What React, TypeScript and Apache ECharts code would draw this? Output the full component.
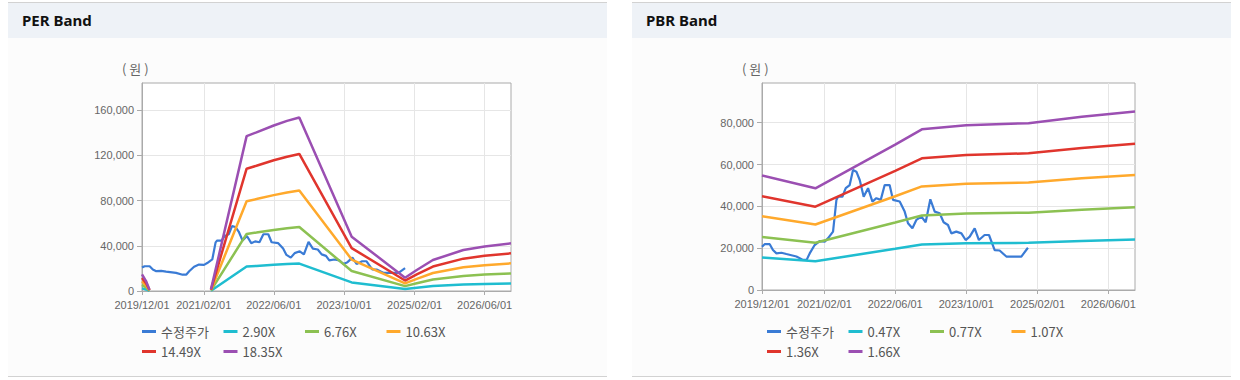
import { useEffect, useRef } from 'react';
import * as echarts from 'echarts';

// ---------- data ----------
const xMin = '2019-12-01';
const xMax = '2026-12-01';
const xTickDates = ['2019-12-01', '2021-02-01', '2022-06-01', '2023-10-01', '2025-02-01', '2026-06-01'];

const perYTicks = [0, 40000, 80000, 120000, 160000];
const perYMax = 184000;
const pbrYTicks = [0, 20000, 40000, 60000, 80000];
const pbrYMax = 99000;

// 수정주가 (adjusted price) – shared by both charts
const priceDates = [
  '2019-12-01', '2019-12-19', '2020-01-23', '2020-02-14', '2020-03-09', '2020-04-12', '2020-05-16',
  '2020-07-24', '2020-09-07', '2020-10-02', '2020-10-23', '2020-11-26', '2020-12-30', '2021-02-03',
  '2021-02-25', '2021-04-01', '2021-04-24', '2021-05-05', '2021-06-04', '2021-06-27', '2021-07-24',
  '2021-08-16', '2021-09-08', '2021-10-01', '2021-10-28', '2021-11-27', '2021-12-27', '2022-01-23',
  '2022-02-22', '2022-03-21', '2022-04-24', '2022-05-17', '2022-07-02', '2022-08-05', '2022-08-28',
  '2022-09-27', '2022-10-24', '2022-11-28', '2022-12-27', '2023-01-28', '2023-02-27', '2023-04-02',
  '2023-04-29', '2023-05-29', '2023-06-21', '2023-07-25', '2023-08-29', '2023-09-27', '2023-10-25',
  '2023-11-28', '2023-12-27', '2024-02-04', '2024-03-05', '2024-04-13', '2024-05-17', '2024-07-02',
  '2024-10-13', '2024-11-27',
];
const priceValues = [
  20700, 21900, 21900, 19100, 17500, 17800, 17200,
  16000, 14400, 14400, 17500, 21500, 23400, 23100,
  24700, 27900, 43000, 44600, 44600, 48700, 50200,
  57400, 56600, 52600, 44600, 48700, 42300, 43900,
  43100, 50200, 50200, 43100, 42300, 37500, 31900,
  29500, 33500, 35100, 32400, 43400, 37500, 36700,
  32400, 31100, 27100, 27900, 27100, 23900, 25500,
  29500, 23900, 26300, 26300, 19100, 18900, 16000,
  16000, 20200,
];

// PER band
const perDates = [
  '2019-12-01', '2019-12-29', '2020-01-22', '2020-08-01', '2021-03-23', '2021-11-25', '2022-02-01',
  '2022-06-01', '2022-09-01', '2022-11-25', '2023-11-23', '2024-11-27', '2025-02-16', '2025-06-08',
  '2026-01-05', '2026-06-01', '2026-12-01',
];
const per290 = [2320, 1390, 170, null, 230, 21650, 22190, 23140, 23780, 24260, 7600, 1860, 2930, 4340, 5730, 6240, 6670];
const per676 = [5410, 3240, 410, null, 540, 50470, 51710, 53940, 55430, 56550, 17710, 4330, 6830, 10110, 13350, 14530, 15550];
const per1063 = [8500, 5100, 640, null, 850, 79360, 81320, 84830, 87170, 88930, 27850, 6800, 10740, 15890, 20990, 22860, 24450];
const per1449 = [11590, 6960, 870, null, 1160, 108180, 110850, 115630, 118820, 121220, 37960, 9270, 14640, 21660, 28620, 31150, 33330];
const per1835 = [14680, 8810, 1100, null, 1470, 137000, 140380, 146430, 150470, 153520, 48080, 11740, 18530, 27430, 36240, 39450, 42210];

// PBR band
const pbrDates = ['2019-12-01', '2020-12-01', '2022-06-01', '2022-12-01', '2023-10-01', '2024-12-01', '2025-12-01', '2026-12-01'];
const pbr047 = [15510, 13770, 19690, 21760, 22330, 22580, 23450, 24160];
const pbr077 = [25410, 22560, 32260, 35650, 36580, 37000, 38420, 39580];
const pbr107 = [35310, 31350, 44830, 49540, 50830, 51410, 53390, 55000];
const pbr136 = [44880, 39850, 56980, 62970, 64600, 65350, 67860, 69900];
const pbr166 = [54780, 48640, 69550, 76860, 78850, 79760, 82830, 85320];

const priceName = '수정주가';
const perNames = ['2.90X', '6.76X', '10.63X', '14.49X', '18.35X'];
const pbrNames = ['0.47X', '0.77X', '1.07X', '1.36X', '1.66X'];
const colors = ['#3a7bd5', '#1fbdd0', '#8cc152', '#ffa92c', '#e0352d', '#9b4fb2'];

// ---------- helpers ----------
const ts = (s: string) => {
  const [y, m, d] = s.split('-').map(Number);
  return new Date(y, m - 1, d).getTime();
};
const pad = (n: number) => (n < 10 ? '0' + n : '' + n);
const fmtDate = (v: number) => {
  const d = new Date(Math.round(v));
  return `${d.getFullYear()}/${pad(d.getMonth() + 1)}/${pad(d.getDate())}`;
};
const zip = (dates: string[], vals: (number | null)[]) => dates.map((d, i) => [ts(d), vals[i]]);

const LABEL_FONT = '"Liberation Sans", Arial, sans-serif';
const KR_FONT = '"Noto Sans CJK KR", "Noto Sans", sans-serif';

function buildOption() {
  const xTicks = xTickDates.map(ts);
  const grids = [
    { left: 142, top: 83, width: 369, height: 208 },
    { left: 762, top: 83, width: 373, height: 207 },
  ];
  const xAxisFor = (gi: number) => ({
    type: 'value',
    gridIndex: gi,
    min: ts(xMin),
    max: ts(xMax),
    axisLine: { show: true, lineStyle: { color: '#aaaaaa', width: 1 } },
    axisTick: { show: true, length: 4, customValues: xTicks, lineStyle: { color: '#aaaaaa' } },
    axisLabel: {
      customValues: xTicks,
      formatter: (v: number) => fmtDate(v),
      color: '#666666',
      fontSize: 11,
      fontFamily: LABEL_FONT,
      margin: 8,
    },
    splitLine: { show: true, customValues: xTicks, lineStyle: { color: '#e6e6e6', width: 1 } },
  });
  const yAxisFor = (gi: number, max: number, ticks: number[]) => ({
    type: 'value',
    gridIndex: gi,
    min: 0,
    max,
    interval: ticks[1] - ticks[0],
    axisLine: { show: true, lineStyle: { color: '#aaaaaa', width: 1 } },
    axisTick: { show: true, length: 5, customValues: ticks, lineStyle: { color: '#aaaaaa' } },
    axisLabel: {
      customValues: ticks,
      formatter: (v: number) => v.toLocaleString('en-US'),
      color: '#666666',
      fontSize: 11,
      fontFamily: LABEL_FONT,
      margin: 8,
    },
    splitLine: { show: true, lineStyle: { color: '#e6e6e6', width: 1 } },
  });

  const line = (name: string, data: any[], gi: number, color: string, width: number) => ({
    type: 'line',
    name,
    xAxisIndex: gi,
    yAxisIndex: gi,
    data,
    showSymbol: false,
    symbol: 'none',
    connectNulls: false,
    lineStyle: { color, width },
    itemStyle: { color },
    emphasis: { disabled: true },
  });

  const perBands = [per290, per676, per1063, per1449, per1835];
  const pbrBands = [pbr047, pbr077, pbr107, pbr136, pbr166];
  const series: any[] = [];
  series.push(line(priceName, zip(priceDates, priceValues), 0, colors[0], 2.2));
  perBands.forEach((b, i) => series.push(line(perNames[i], zip(perDates, b), 0, colors[i + 1], 2.5)));
  series.push(line(priceName, zip(priceDates, priceValues), 1, colors[0], 2.2));
  pbrBands.forEach((b, i) => series.push(line(pbrNames[i], zip(pbrDates, b), 1, colors[i + 1], 2.5)));

  const legends: any[] = [];
  const legendBlock = (names: string[], baseX: number) => {
    names.forEach((n, i) => {
      const col = i % 4;
      const row = Math.floor(i / 4);
      legends.push({
        data: [n],
        left: baseX + col * 81.5,
        top: row === 0 ? 325 : 345,
        padding: 0,
        icon: 'rect',
        itemWidth: 14,
        itemHeight: 3,
        selectedMode: false,
        textStyle: { color: '#555555', fontSize: 13, fontFamily: KR_FONT },
      });
    });
  };
  legendBlock([priceName, ...perNames], 142);
  legendBlock([priceName, ...pbrNames], 767);

  const titleStyle = { fontSize: 15, fontWeight: 'bold', color: '#111111', fontFamily: '"Noto Sans", sans-serif' };

  return {
    animation: false,
    backgroundColor: 'transparent',
    title: [
      { text: 'PER Band', left: 22, top: 12, padding: 0, textStyle: titleStyle },
      { text: 'PBR Band', left: 646, top: 12, padding: 0, textStyle: titleStyle },
    ],
    graphic: [
      { type: 'text', left: 122, top: 62, style: { text: '( 원 )', font: `13px ${KR_FONT}`, fill: '#666666' } },
      { type: 'text', left: 742, top: 62, style: { text: '( 원 )', font: `13px ${KR_FONT}`, fill: '#666666' } },
    ],
    grid: grids.map((g) => ({
      ...g,
      show: true,
      backgroundColor: '#ffffff',
      borderColor: '#aaaaaa',
      borderWidth: 1,
      containLabel: false,
    })),
    legend: legends,
    xAxis: [xAxisFor(0), xAxisFor(1)],
    yAxis: [yAxisFor(0, perYMax, perYTicks), yAxisFor(1, pbrYMax, pbrYTicks)],
    series,
  };
}

function Panel({ x }: { x: number }) {
  return (
    <div
      style={{
        position: 'absolute',
        left: x,
        top: 2,
        width: 599,
        height: 375,
        boxSizing: 'border-box',
        borderTop: '1px solid #d2d2d2',
        borderBottom: '1px solid #d2d2d2',
        background: '#fcfcfc',
      }}
    >
      <div style={{ height: 35, background: '#eef2f7' }} />
    </div>
  );
}

export default function App() {
  const ref = useRef<HTMLDivElement>(null);
  useEffect(() => {
    const chart = echarts.init(ref.current!, null, { renderer: 'svg' });
    chart.setOption(buildOption() as any);
    return () => chart.dispose();
  }, []);
  return (
    <div style={{ position: 'absolute', left: 0, top: 0, width: 1240, height: 380, background: '#ffffff', overflow: 'hidden' }}>
      <Panel x={8} />
      <Panel x={632} />
      <div ref={ref} style={{ position: 'absolute', left: 0, top: 0, width: 1240, height: 380 }} />
    </div>
  );
}
